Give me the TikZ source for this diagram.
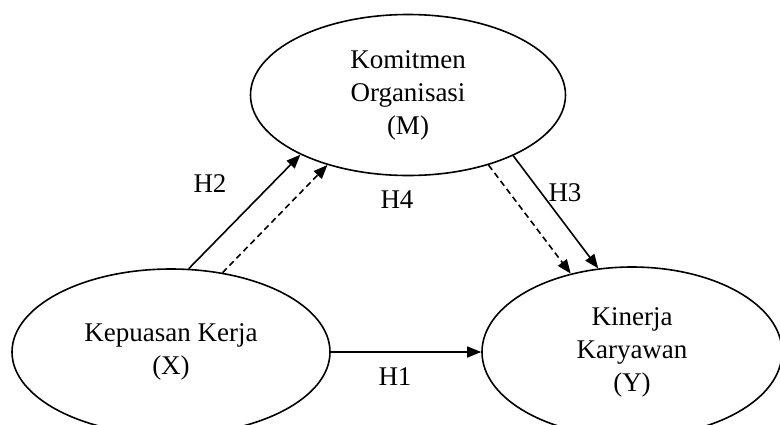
\documentclass[tikz,border=0pt]{standalone}
\usepackage{fontspec}
\setmainfont{Liberation Serif}
\usetikzlibrary{shapes.geometric, arrows.meta}

\begin{document}
\begin{tikzpicture}[
  x=1pt, y=-1pt,
  var/.style={ellipse, draw=black, line width=1.6pt, inner sep=0pt, align=center,
              font=\fontsize{27}{33}\selectfont},
  hyp/.style={font=\fontsize{27}{33}\selectfont, inner sep=0pt},
  effect/.style={line width=1.6pt, -{Triangle[length=14pt,width=11pt]}},
  mediated/.style={effect, dash pattern=on 6pt off 4pt}
]
\useasboundingbox (0,0) rectangle (780,424);

\node[var, minimum width=315pt, minimum height=161pt] (M) at (408,95) {
  Komitmen\\Organisasi\\(M)
};
\node[var, minimum width=318pt, minimum height=166pt] (X) at (171,352) {
  Kepuasan Kerja\\(X)
};
\node[var, minimum width=300pt, minimum height=170pt] (Y) at (632,352) {
  Kinerja\\Karyawan\\(Y)
};

% H2: X -> M
\draw[effect] (X.78) -- (M.209);
\draw[mediated] (X.57) -- (M.221);

% H3: M -> Y
\draw[mediated] (M.319) -- (Y.128);
\draw[effect] (M.330) -- (Y.112);

% H1: X -> Y
\draw[effect] (X.east) -- (Y.west);

\node[hyp] (h2) at (210,184) {H2};
\node[hyp] (h4) at (397,200) {H4};
\node[hyp] (h3) at (565,193) {H3};
\node[hyp] (h1) at (395,377) {H1};

\end{tikzpicture}
\end{document}
